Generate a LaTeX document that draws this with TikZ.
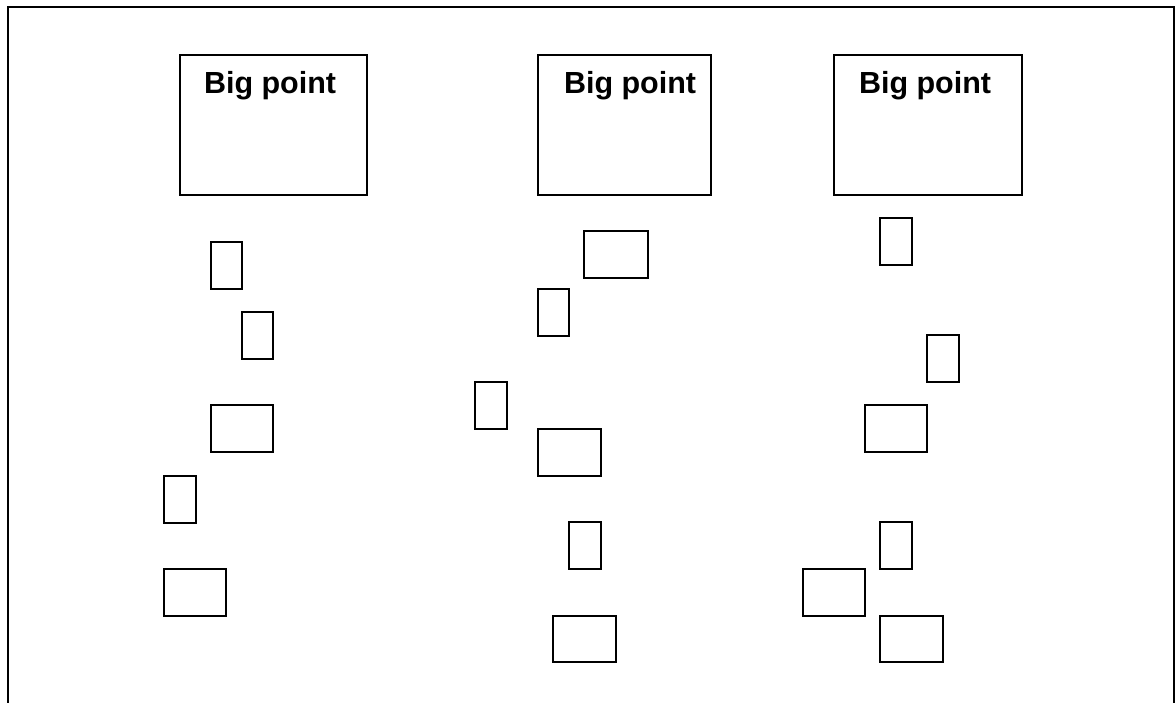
\documentclass[tikz,border=0pt]{standalone}
\usepackage{fontspec}
\setmainfont{Liberation Sans}
\begin{document}
\begin{tikzpicture}[x=1pt,y=-1pt,
  line width=2pt,
  bigbox/.style={draw, anchor=north west, inner sep=0pt},
  smallbox/.style={draw, anchor=north west, inner sep=0pt},
  label/.style={anchor=base west, inner sep=0pt, font=\bfseries\fontsize{30.5}{36}\selectfont}]
\useasboundingbox (0,0) rectangle (1175,703);
% frame (open at the bottom)
\coordinate (fbl) at (7.5,703);
\coordinate (ftl) at (7.5,7.5);
\coordinate (ftr) at (1173.5,7.5);
\coordinate (fbr) at (1173.5,703);
\draw (fbl) -- (ftl) -- (ftr) -- (fbr);
% big boxes
\node[bigbox, minimum width=187pt, minimum height=140pt] (b1) at (179,54) {};
\node[bigbox, minimum width=173pt, minimum height=140pt] (b2) at (537,54) {};
\node[bigbox, minimum width=188pt, minimum height=140pt] (b3) at (833,54) {};
\node[label] (t1) at (203,94) {Big point};
\node[label] (t2) at (563,94) {Big point};
\node[label] (t3) at (858,94) {Big point};
% column 1
\node[smallbox, minimum width=31pt, minimum height=47pt] (a1) at (210,241) {};
\node[smallbox, minimum width=31pt, minimum height=47pt] (a2) at (241,311) {};
\node[smallbox, minimum width=62pt, minimum height=47pt] (a3) at (210,404) {};
\node[smallbox, minimum width=32pt, minimum height=47pt] (a4) at (163,475) {};
\node[smallbox, minimum width=62pt, minimum height=47pt] (a5) at (163,568) {};
% column 2
\node[smallbox, minimum width=64pt, minimum height=47pt] (c1) at (583,230) {};
\node[smallbox, minimum width=31pt, minimum height=47pt] (c2) at (537,288) {};
\node[smallbox, minimum width=32pt, minimum height=47pt] (c3) at (474,381) {};
\node[smallbox, minimum width=63pt, minimum height=47pt] (c4) at (537,428) {};
\node[smallbox, minimum width=32pt, minimum height=47pt] (c5) at (568,521) {};
\node[smallbox, minimum width=63pt, minimum height=46pt] (c6) at (552,615) {};
% column 3
\node[smallbox, minimum width=32pt, minimum height=47pt] (d1) at (879,217) {};
\node[smallbox, minimum width=32pt, minimum height=47pt] (d2) at (926,334) {};
\node[smallbox, minimum width=62pt, minimum height=47pt] (d3) at (864,404) {};
\node[smallbox, minimum width=32pt, minimum height=47pt] (d4) at (879,521) {};
\node[smallbox, minimum width=62pt, minimum height=47pt] (d5) at (802,568) {};
\node[smallbox, minimum width=63pt, minimum height=46pt] (d6) at (879,615) {};
\end{tikzpicture}
\end{document}
